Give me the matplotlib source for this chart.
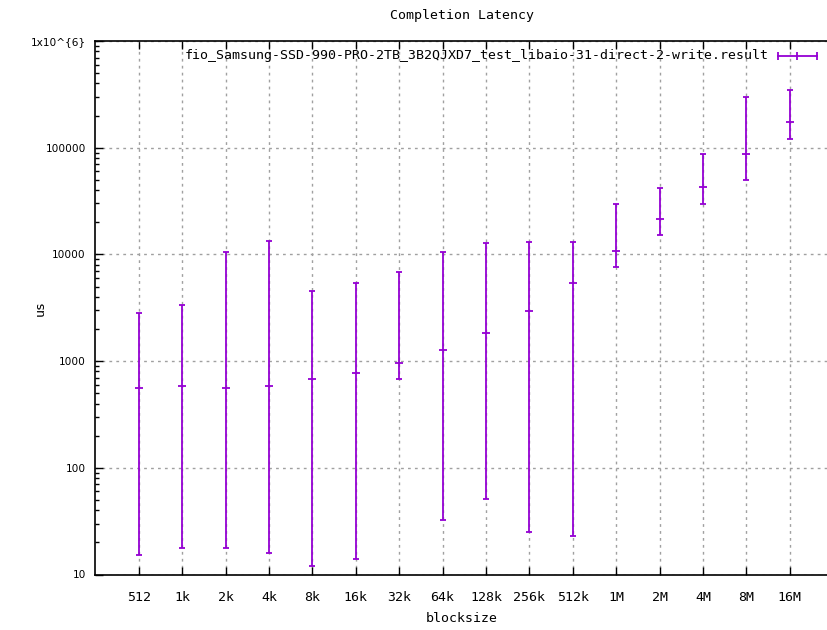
import matplotlib
matplotlib.use("Agg")
import matplotlib.pyplot as plt
import numpy as np
from matplotlib.lines import Line2D
from matplotlib.ticker import FixedLocator, FixedFormatter, LogLocator, NullFormatter

blocksizes = ["512", "1k", "2k", "4k", "8k", "16k", "32k", "64k",
              "128k", "256k", "512k", "1M", "2M", "4M", "8M", "16M"]
lat_mid = [564, 585, 564, 585, 674, 778, 951, 1270,
           1845, 2945, 5390, 10800, 21500, 43200, 86900, 173000]
lat_min = [15.1, 17.8, 17.8, 15.8, 11.9, 14.1, 674, 32.5,
           51.5, 25.1, 23.0, 7670, 15300, 29600, 49900, 121600]
lat_max = [2840, 3390, 10570, 13400, 4560, 5390, 6870, 10500,
           12850, 13130, 13130, 29700, 42300, 86900, 299000, 345000]

label = "fio_Samsung-SSD-990-PRO-2TB_3B2QJXD7_test_libaio-31-direct-2-write.result"
color = "#9400d3"
mono = "DejaVu Sans Mono"

fig = plt.figure(figsize=(8.28, 6.3), dpi=100)
# plot area runs past the right edge of the canvas, as in the original
ax = fig.add_axes([95.5 / 828, 1 - 574.5 / 630, 781 / 828, 533.5 / 630])

x = np.arange(len(blocksizes))
mid = np.array(lat_mid)
lo = mid - np.array(lat_min)
hi = np.array(lat_max) - mid
ax.errorbar(x, mid, yerr=[lo, hi], fmt="none", ecolor=color, elinewidth=1.3,
            capsize=2.5, capthick=1.3)
ax.plot(x, mid, ls="none", marker="_", ms=6, mew=1.3, color=color)

ax.set_yscale("log")
ax.set_ylim(10, 1e6)
ax.set_xlim(-1, 17)

ax.xaxis.set_major_locator(FixedLocator(x))
ax.xaxis.set_major_formatter(FixedFormatter(blocksizes))
yt = [10, 100, 1000, 10000, 100000, 1000000]
ax.yaxis.set_major_locator(FixedLocator(yt))
ax.yaxis.set_major_formatter(FixedFormatter(["10", "100", "1000", "10000", "100000", "1x10^{6}"]))
ax.yaxis.set_minor_locator(LogLocator(base=10, subs=np.arange(2, 10)))
ax.yaxis.set_minor_formatter(NullFormatter())

ax.tick_params(axis="x", which="major", direction="in", length=6, width=1,
               top=True, pad=12, labelsize=9.5, labelfontfamily=mono)
ax.tick_params(axis="y", which="major", direction="in", length=6, width=1,
               right=True, pad=7, labelsize=7.6)
ax.tick_params(axis="y", which="minor", direction="in", length=3, width=1, right=True)

ax.grid(True, which="major", color="#a0a0a0", linestyle=(0, (2, 3)), linewidth=1)
ax.set_axisbelow(True)
for s in ax.spines.values():
    s.set_linewidth(1.2)

fig.text(462 / 828, 1 - 15 / 630, "Completion Latency", ha="center", va="center",
         family=mono, fontsize=9.5)
fig.text(462 / 828, 1 - 619 / 630, "blocksize", ha="center", va="center",
         family=mono, fontsize=9.5)
fig.text(40 / 828, 1 - 308 / 630, "us", ha="center", va="center", rotation=90,
         family=mono, fontsize=9.5)

# key
ky = 1 - 56 / 630
fig.text(769 / 828, ky, label, ha="right", va="center", family=mono, fontsize=9.5)
x0, x1, xm = 778 / 828, 817 / 828, 797 / 828
fig.add_artist(Line2D([x0, x1], [ky, ky], color=color, lw=1.3))
fig.add_artist(Line2D([x0, x1], [ky, ky], ls="none", marker="|", ms=6, mew=1.3, color=color))
fig.add_artist(Line2D([xm], [ky], ls="none", marker="|", ms=6, mew=1.3, color=color))

fig.savefig("out.png", dpi=100)
